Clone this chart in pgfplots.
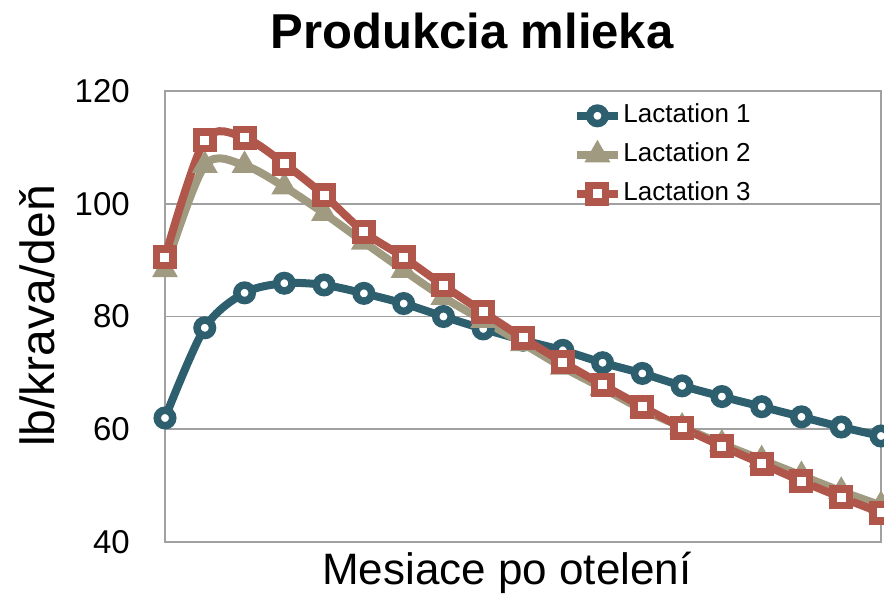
\documentclass[border=0pt]{standalone}
\usepackage{pgfplots}
\pgfplotsset{compat=1.18}
\usepackage{fontspec}
\setmainfont{Liberation Sans}
\definecolor{lacone}{RGB}{46,95,110}
\definecolor{lactwo}{RGB}{160,155,128}
\definecolor{lacthree}{RGB}{176,86,75}
\definecolor{gridgray}{RGB}{160,160,160}

\begin{document}
\begin{tikzpicture}[x=1pt,y=1pt]
\begin{axis}[
  at={(0,0)}, anchor=south west,
  scale only axis, width=716pt, height=451pt,
  xmin=1, xmax=19, ymin=40, ymax=120,
  xtick=\empty, ytick={40,60,80,100,120},
  ymajorgrids,
  major grid style={gridgray, line width=1.8pt},
  axis line style={gridgray, line width=1.8pt},
  major tick length=0pt,
  yticklabel style={font=\fontsize{33}{33}\selectfont, inner sep=0pt, xshift=-35pt},
  /pgf/number format/assume math mode=true,
  clip=false,
  legend cell align=left,
  legend style={draw=none, fill=none, at={(0.566,0.982)}, anchor=north west,
    font=\fontsize{26}{26}\selectfont, row sep=10pt,
    nodes={inner sep=2pt, text height=19pt, text depth=6pt}},
  legend image code/.code={\draw[mark repeat=2, mark phase=2] plot coordinates {(0pt,0pt) (20pt,0pt) (40pt,0pt)};},
]
% lactation 1
\addplot[lacone, line width=8pt, smooth, tension=0.5, mark=*, mark size=7.75pt,
  mark options={fill=white, draw=lacone, line width=7.5pt}] coordinates {
  (1,62)(2,78)(3,84.2)(4,85.9)(5,85.6)(6,84.1)(7,82.3)(8,80)(9,77.8)(10,75.8)
  (11,74)(12,71.8)(13,69.9)(14,67.7)(15,65.8)(16,64)(17,62.2)(18,60.4)(19,58.8)};
\addlegendentry{Lactation 1}
% lactation 2
\addplot[lactwo, line width=8pt, smooth, tension=0.5, mark=triangle*, mark size=13pt,
  mark options={fill=lactwo, draw=lactwo, line width=2pt}] coordinates {
  (1,88.3)(2,106.8)(3,106.8)(4,103)(5,98.3)(6,93.2)(7,88.2)(8,83.4)(9,79.3)(10,75.2)
  (11,71)(12,67.3)(13,63.5)(14,60.4)(15,57.4)(16,54.6)(17,51.8)(18,49)(19,46.5)};
\addlegendentry{Lactation 2}
% lactation 3
\addplot[lacthree, line width=8pt, smooth, tension=0.5, mark=square*, mark size=8.25pt,
  mark options={fill=white, draw=lacthree, line width=7.5pt}] coordinates {
  (1,90.5)(2,111.3)(3,111.7)(4,107.1)(5,101.5)(6,95)(7,90.5)(8,85.5)(9,80.8)(10,76.2)
  (11,71.9)(12,67.9)(13,64)(14,60.3)(15,57)(16,53.9)(17,50.8)(18,47.9)(19,45.2)};
\addlegendentry{Lactation 3}
\end{axis}
\node[anchor=base, font=\fontsize{49}{49}\selectfont\bfseries] at (307,493) {Produkcia mlieka};
\node[anchor=base, font=\fontsize{44}{44}\selectfont] at (342,-43) {Mesiace po otelení};
\node[anchor=base, rotate=90, font=\fontsize{48}{48}\selectfont] at (-110,226) {lb/krava/deň};
\pgfresetboundingbox
\path[use as bounding box] (-165,-66) rectangle (719,542);
\end{tikzpicture}
\end{document}
